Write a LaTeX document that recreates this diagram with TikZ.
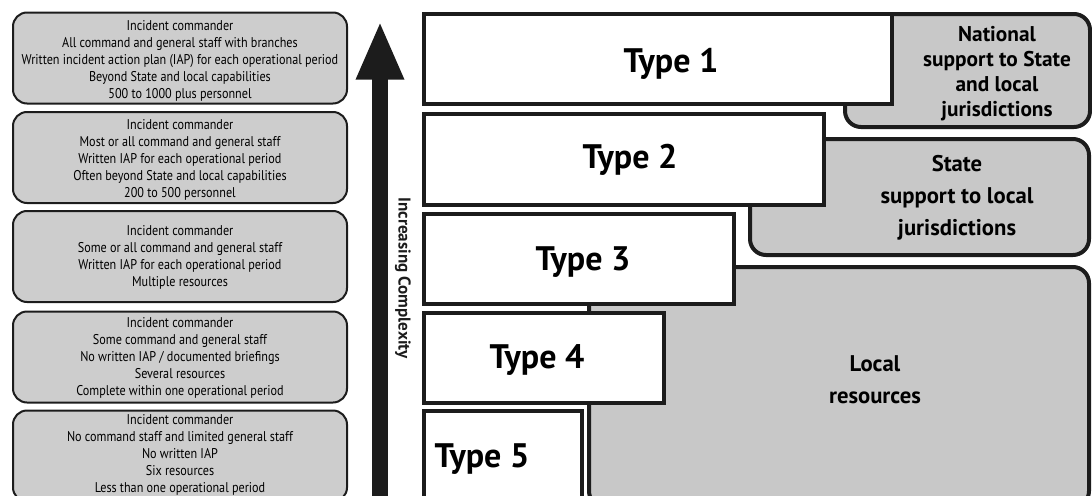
\documentclass[tikz,border=0pt]{standalone}
\usepackage{fontspec}
\setmainfont{PT Sans}
\newfontfamily\condfont[FakeStretch=0.86]{PT Sans}
\usetikzlibrary{arrows.meta}
\definecolor{linec}{HTML}{1C1C1C}
\definecolor{lgray}{HTML}{CDCDCD}
\definecolor{rgray}{HTML}{C8C8C8}
\begin{document}
\begin{tikzpicture}[x=0.75pt,y=-0.75pt,
  leftbox/.style={draw=linec, line width=1.5pt, fill=lgray, rounded corners=10.5pt,
    minimum width=250.5pt, minimum height=68.25pt, inner sep=0pt, align=center,
    font=\condfont\fontsize{10.6}{12.75}\selectfont},
  lefttext/.style={align=center, inner sep=0pt, font=\condfont\fontsize{10.6}{12.75}\selectfont},
  typebox/.style={draw=linec, line width=3.2pt, fill=white, inner sep=0pt, anchor=north west},
  typetext/.style={font=\bfseries\fontsize{25.5}{28}\selectfont, inner sep=0pt, anchor=base},
  grbox/.style={draw=linec, line width=3pt, fill=rgray, rounded corners=12pt, inner sep=0pt, anchor=north west},
  grtext/.style={font=\bfseries, align=center, inner sep=0pt}]
\useasboundingbox (0,0) rectangle (1092,496);
\clip (0,0) rectangle (1092,496);

% left description boxes
\node[leftbox] (d1) at (180,58) {};
\node[lefttext] (e1) at (180,60.5) {Incident commander\\All command and general staff with branches\\Written incident action plan (IAP) for each operational period\\Beyond State and local capabilities\\500 to 1000 plus personnel};
\node[leftbox] (d2) at (180,157.5) {};
\node[lefttext] (e2) at (180,159.5) {Incident commander\\Most or all command and general staff\\Written IAP for each operational period\\Often beyond State and local capabilities\\200 to 500 personnel};
\node[leftbox] (d3) at (180,256.5) {};
\node[lefttext] (e3) at (180,257.5) {Incident commander\\Some or all command and general staff\\Written IAP for each operational period\\Multiple resources};
\node[leftbox] (d4) at (180,357) {};
\node[lefttext] (e4) at (180,358) {Incident commander\\Some command and general staff\\No written IAP / documented briefings\\Several resources\\Complete within one operational period};
\node[leftbox] (d5) at (180,456) {};
\node[lefttext] (e5) at (180,455) {Incident commander\\No command staff and limited general staff\\No written IAP\\Six resources\\Less than one operational period};

% arrow
\coordinate (abot) at (380,500);
\coordinate (atop) at (380,21);
\draw[linec, line width=12pt, -{Triangle[length=44pt,width=33pt]}] (abot) -- (atop);
\node[rotate=-90, font=\bfseries\fontsize{12.8}{14}\selectfont, text=linec, inner sep=0pt] (lab) at (403,278) {Increasing Complexity};

% gray support boxes
\node[grbox, minimum width=183.75pt, minimum height=84.75pt] (g1) at (843,12) {};
\node[grbox, minimum width=254.25pt, minimum height=87pt] (g2) at (748,137) {};
\node[grbox, minimum width=375pt, minimum height=180pt] (g3) at (587,265) {};

% type boxes
\node[typebox, minimum width=351pt, minimum height=67.5pt] (t1) at (422,12) {};
\node[typebox, minimum width=300pt, minimum height=68.25pt] (t2) at (422,112) {};
\node[typebox, minimum width=232.5pt, minimum height=67.5pt] (t3) at (422,212) {};
\node[typebox, minimum width=180pt, minimum height=67.5pt] (t4) at (422,311) {};
\node[typebox, minimum width=118.5pt, minimum height=80pt] (t5) at (422,409) {};

\node[typetext] (l1) at (671,72) {Type 1};
\node[typetext] (l2) at (630,168) {Type 2};
\node[typetext] (l3) at (583,270) {Type 3};
\node[typetext] (l4) at (537,368) {Type 4};
\node[typetext] (l5) at (482,467) {Type 5};

\node[grtext, font=\bfseries\fontsize{16}{18.75}\selectfont] (n1) at (997,74) {National\\support to State\\and local\\jurisdictions};
\node[grtext, font=\bfseries\fontsize{17}{24}\selectfont] (n2) at (957,198) {State\\support to local\\jurisdictions};
\node[grtext, font=\bfseries\fontsize{17}{24}\selectfont] (n3) at (875,380) {Local\\resources};
\end{tikzpicture}
\end{document}
